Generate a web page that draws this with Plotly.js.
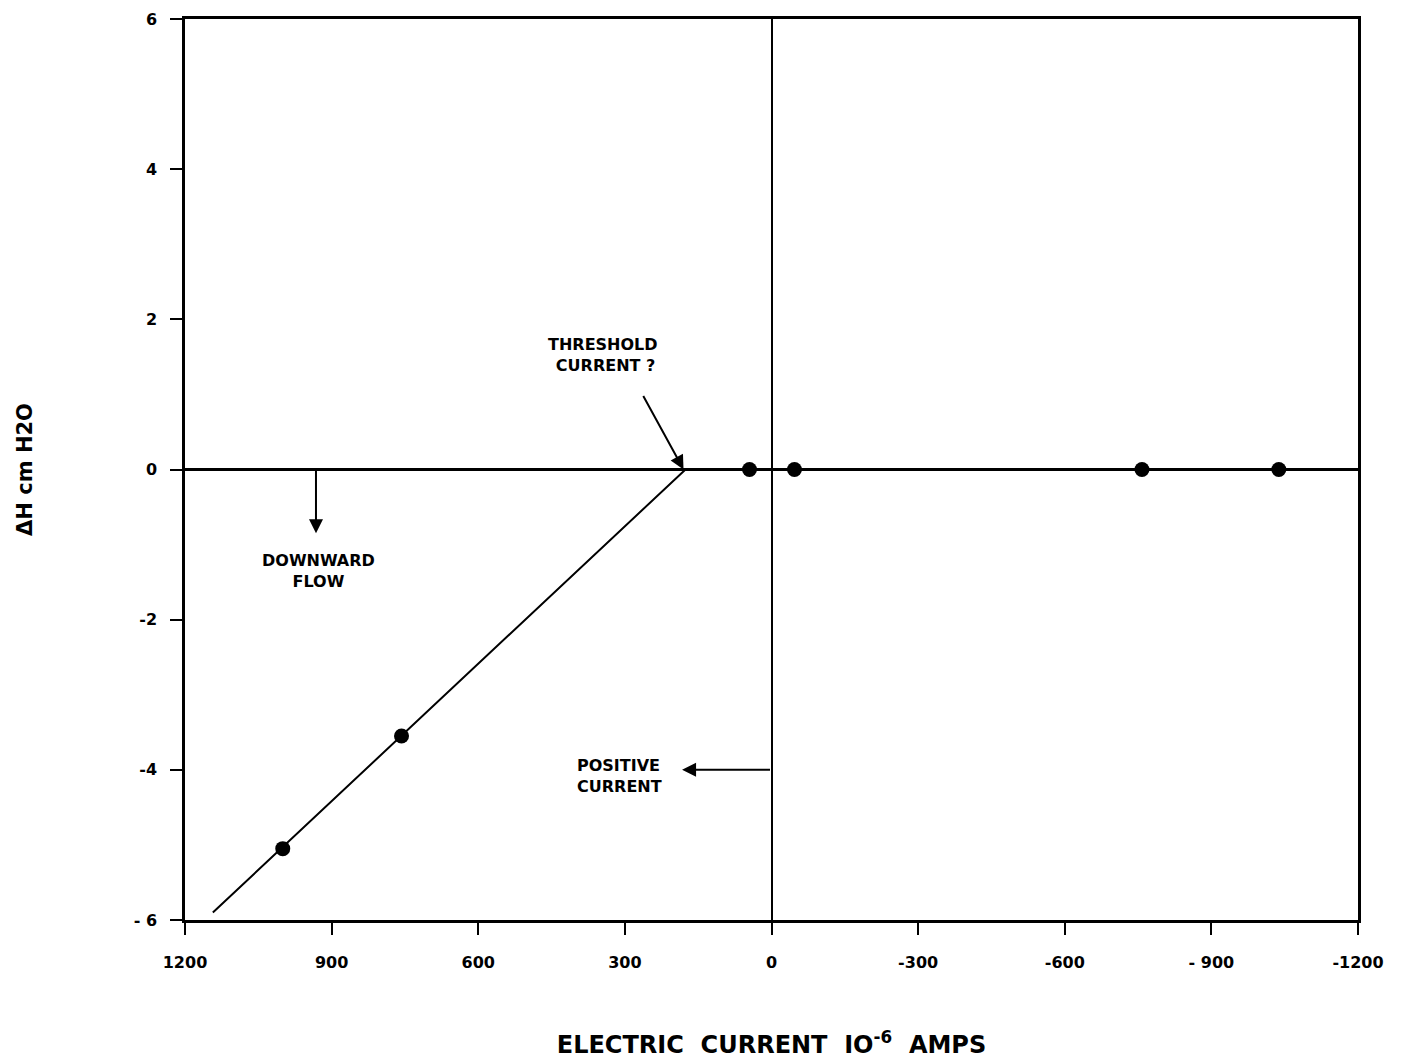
<!DOCTYPE html>
<html><head><meta charset="utf-8">
<script src="https://cdn.plot.ly/plotly-3.0.1.min.js"></script>
<style>html,body{margin:0;padding:0;background:#fff}</style>
</head><body><div id="chart" style="width:1407px;height:1063px"></div>
<script>
// Measured points
var currentX = [1000, 757, 45, -47, -758, -1038];
var deltaH = [-5.05, -3.55, 0, 0, 0, 0];
// Fitted line
var fitX = [1143, 176, -1200];
var fitY = [-5.9, 0, 0];
var xTickVals = [1200, 900, 600, 300, 0, -300, -600, -900, -1200];
var xTickText = ['1200', '900', '600', '300', '0', '-300', '-600', '- 900', '-1200'];
var yTickVals = [6, 4, 2, 0, -2, -4, -6];
var yTickText = ['6', '4', '2', '0', '-2', '-4', '- 6'];

var font = 'DejaVu Sans, Arial, sans-serif';
var traces = [
  {x: fitX, y: fitY, mode: 'lines', line: {color: '#000', width: 2}, hoverinfo: 'skip', showlegend: false},
  {x: currentX, y: deltaH, mode: 'markers', marker: {color: '#000', size: 15}, showlegend: false}
];
function b(s) { return '<b>' + s + '</b>'; }
var layout = {
  width: 1407, height: 1063,
  margin: {l: 185, r: 49, t: 19, b: 143},
  paper_bgcolor: '#fff', plot_bgcolor: '#fff',
  showlegend: false,
  font: {family: font, color: '#000', size: 16},
  xaxis: {
    range: [1200, -1200], tickvals: xTickVals, ticktext: xTickText.map(b),
    ticks: 'outside', ticklen: 12, tickwidth: 2, tickcolor: '#000',
    showgrid: false, zeroline: true, zerolinecolor: '#000', zerolinewidth: 2,
    showline: true, linecolor: '#000', linewidth: 2.5, mirror: true,
    ticklabelstandoff: 14,
    tickfont: {family: font, size: 16},
    title: {text: b('ELECTRIC  CURRENT  IO<sup>-6</sup>  AMPS'), font: {family: font, size: 24}, standoff: 66}
  },
  yaxis: {
    range: [-6, 6], tickvals: yTickVals, ticktext: yTickText.map(b),
    ticks: 'outside', ticklen: 12, tickwidth: 2, tickcolor: '#000',
    showgrid: false, zeroline: true, zerolinecolor: '#000', zerolinewidth: 2.5,
    showline: true, linecolor: '#000', linewidth: 2.5, mirror: true,
    ticklabelstandoff: 10,
    tickfont: {family: font, size: 16},
    title: {text: b('ΔH cm H2O'), font: {family: font, size: 21}, standoff: 96}
  },
  annotations: [
    {x: 345, y: 1.52, xref: 'x', yref: 'y', text: b('THRESHOLD<br> CURRENT ?'), showarrow: false, font: {size: 16}},
    {x: 927, y: -1.35, xref: 'x', yref: 'y', text: b('DOWNWARD<br>FLOW'), showarrow: false, font: {size: 16}},
    {x: 310, y: -4.08, xref: 'x', yref: 'y', text: b('POSITIVE<br>CURRENT'), showarrow: false, font: {size: 16}, align: 'left'}
  ]
};
// Arrows (head/tail positions in data coordinates)
var arrows = [
  {x: 180, y: 0, ax: 264, ay: 1.0},
  {x: 932, y: -0.85, ax: 932, ay: 0},
  {x: 183, y: -4.0, ax: 0, ay: -4.0}
];
arrows.forEach(function (a) {
  layout.annotations.push({x: a.x, y: a.y, ax: a.ax, ay: a.ay, xref: 'x', yref: 'y', axref: 'x', ayref: 'y',
    text: '', showarrow: true, arrowhead: 2, arrowsize: 1.4, arrowwidth: 2, arrowcolor: '#000'});
});
Plotly.newPlot('chart', traces, layout, {displayModeBar: false});
</script></body></html>
